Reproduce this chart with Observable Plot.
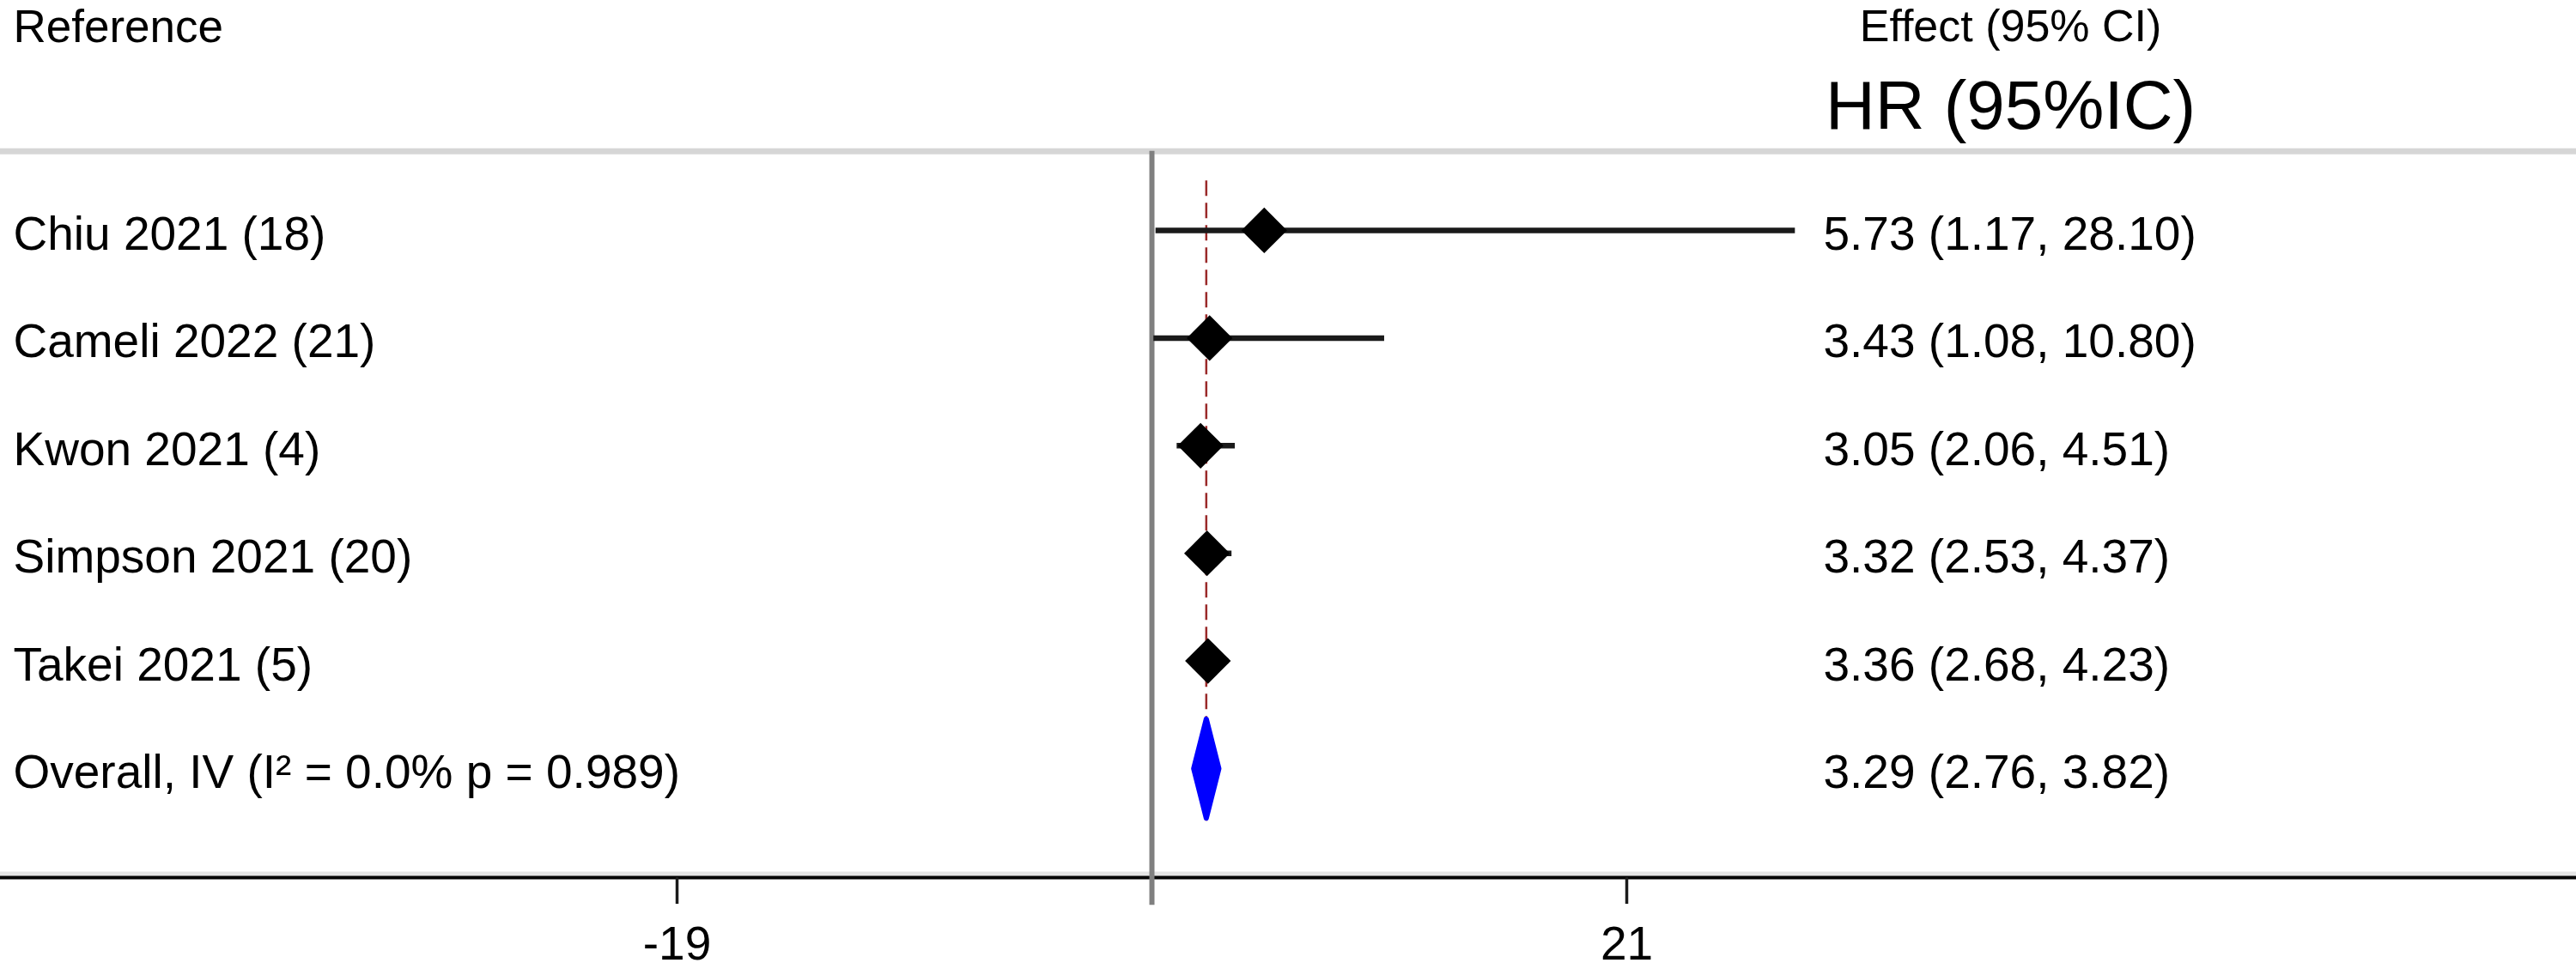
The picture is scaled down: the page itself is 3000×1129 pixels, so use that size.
<!DOCTYPE html>
<html>
<head>
<meta charset="utf-8">
<script src="https://cdn.jsdelivr.net/npm/d3@7"></script>
<script src="https://cdn.jsdelivr.net/npm/@observablehq/plot@0.6"></script>
<style>
  html, body { margin: 0; padding: 0; background: #fff; overflow: hidden; }
  #chart svg { display: block; }
</style>
</head>
<body>
<div id="chart"></div>
<script>
// ---- data ----
const studies = ["Chiu 2021 (18)", "Cameli 2022 (21)", "Kwon 2021 (4)", "Simpson 2021 (20)", "Takei 2021 (5)"];
const hr = [5.73, 3.43, 3.05, 3.32, 3.36];
const lower = [1.17, 1.08, 2.06, 2.53, 2.68];
const upper = [28.10, 10.80, 4.51, 4.37, 4.23];
const overallLabel = "Overall, IV (I\u00B2 = 0.0% p = 0.989)";
const overallHr = 3.29;
const overallLower = 2.76;
const overallUpper = 3.82;
const nullValue = 1;
const xTicks = [-19, 21];
const headerLeft = "Reference";
const headerRight1 = "Effect (95% CI)";
const headerRight2 = "HR (95%IC)";

// ---- table built from arrays ----
const fmt = v => v.toFixed(2);
const rows = studies.map((s, i) => ({
  label: s, row: i, hr: hr[i], lo: lower[i], hi: upper[i],
  text: `${fmt(hr[i])} (${fmt(lower[i])}, ${fmt(upper[i])})`
}));
const overallRow = studies.length;
const overall = {
  label: overallLabel, row: overallRow, hr: overallHr, lo: overallLower, hi: overallUpper,
  text: `${fmt(overallHr)} (${fmt(overallLower)}, ${fmt(overallUpper)})`
};
const allRows = [...rows, overall];
const halfH = 0.46;
const diamond = [
  {x: overall.lo, y: overall.row},
  {x: overall.hr, y: overall.row - halfH},
  {x: overall.hi, y: overall.row},
  {x: overall.hr, y: overall.row + halfH}
];

const font = "'Liberation Sans', Arial, Helvetica, sans-serif";
const headerY = -0.735;

const chart = Plot.plot({
  width: 3000,
  height: 1129,
  marginLeft: 0,
  marginRight: 0,
  marginTop: 0,
  marginBottom: 107,
  style: {fontFamily: font, background: "#fff", color: "#000"},
  x: {domain: [-47.5, 61], label: null},
  y: {domain: [-2.137, 6.013], reverse: true, axis: null},
  marks: [
    // header separator
    Plot.ruleY([headerY], {stroke: "#d6d6d6", strokeWidth: 7}),
    // bottom axis halo and line
    Plot.frame({anchor: "bottom", stroke: "#e4e4e4", strokeWidth: 8, dy: -3}),
    Plot.frame({anchor: "bottom", stroke: "#000", strokeWidth: 4}),
    Plot.axisX({
      ticks: xTicks, tickSize: 31, tickPadding: 25, fontSize: 55,
      tickFormat: d => String(d), label: null, strokeWidth: 3.5, stroke: "#1a1a1a"
    }),
    // null line
    Plot.ruleX([nullValue], {y1: headerY, y2: 6.27, stroke: "#808080", strokeWidth: 6}),
    // overall estimate dashed line
    Plot.ruleX([overall], {x: "hr", y1: -0.46, y2: overallRow + 0.49, stroke: "#9a2a2a", strokeWidth: 2.5, strokeDasharray: "18,8"}),
    // CI lines
    Plot.ruleY(rows, {y: "row", x1: "lo", x2: "hi", stroke: "#1a1a1a", strokeWidth: 6.5}),
    // study diamonds
    Plot.dot(rows, {x: "hr", y: "row", symbol: "diamond2", r: 24, fill: "#000", stroke: "none"}),
    // overall diamond
    Plot.line(diamond, {x: "x", y: "y", curve: "linear-closed", fill: "#0000ff", stroke: "#0000ff", strokeWidth: 6, strokeLinejoin: "round"}),
    // left labels
    Plot.text(allRows, {y: "row", text: "label", frameAnchor: "left", dx: 15, dy: 5, textAnchor: "start", fontSize: 55, fill: "#000"}),
    // right values
    Plot.text(allRows, {y: "row", text: "text", frameAnchor: "left", dx: 2123, dy: 5, textAnchor: "start", fontSize: 55, fill: "#000"}),
    // headers
    Plot.text([headerLeft], {frameAnchor: "top-left", dx: 15, dy: 48, lineAnchor: "bottom", textAnchor: "start", fontSize: 53, fill: "#000"}),
    Plot.text([headerRight1], {frameAnchor: "top-left", dx: 2341, dy: 47, lineAnchor: "bottom", textAnchor: "middle", fontSize: 52, fill: "#000"}),
    Plot.text([headerRight2], {frameAnchor: "top-left", dx: 2341, dy: 149, lineAnchor: "bottom", textAnchor: "middle", fontSize: 80, fill: "#000"})
  ]
});
document.getElementById("chart").appendChild(chart);
</script>
</body>
</html>
